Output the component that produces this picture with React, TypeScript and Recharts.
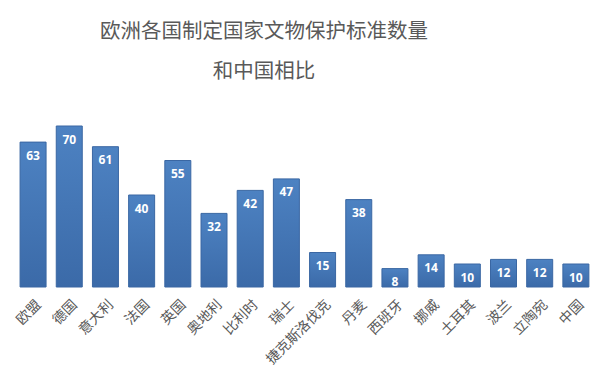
import React from 'react';
import { BarChart, Bar, XAxis, YAxis, LabelList } from 'recharts';

const countries = [
  '欧盟', '德国', '意大利', '法国', '英国', '奥地利', '比利时', '瑞士',
  '捷克斯洛伐克', '丹麦', '西班牙', '挪威', '土耳其', '波兰', '立陶宛', '中国',
];
const counts = [63, 70, 61, 40, 55, 32, 42, 47, 15, 38, 8, 14, 10, 12, 12, 10];
const titleLines = ['欧洲各国制定国家文物保护标准数量', '和中国相比'];

const data = countries.map((name, i) => ({ name, value: counts[i] }));

const textColor = '#595959';
const cjkFont = '"Noto Sans CJK SC", "Noto Sans", sans-serif';

const CountryTick = (props: any) => {
  const { x, y, payload } = props;
  return (
    <g transform={`translate(${x + 6},${y + 8})`}>
      <text
        transform="rotate(-45)"
        textAnchor="end"
        dominantBaseline="middle"
        fill={textColor}
        fontSize={14}
        fontFamily={cjkFont}
      >
        {payload.value}
      </text>
    </g>
  );
};

export default function App() {
  const titleStyle: React.CSSProperties = {
    position: 'absolute',
    left: 64,
    width: 400,
    textAlign: 'center',
    whiteSpace: 'nowrap',
    fontFamily: cjkFont,
    fontSize: 20.5,
    color: textColor,
    lineHeight: '24px',
  };

  return (
    <div style={{ position: 'absolute', left: 0, top: 0, width: 600, height: 381, background: '#fff' }}>
      <div style={{ ...titleStyle, top: 17 }}>{titleLines[0]}</div>
      <div style={{ ...titleStyle, top: 57 }}>{titleLines[1]}</div>
      <BarChart
        width={600}
        height={381}
        data={data}
        margin={{ top: 126, right: 6, left: 15, bottom: 0 }}
        barCategoryGap="14%"
      >
        <defs>
          <linearGradient id="barFill" x1="0" y1="0" x2="0" y2="1">
            <stop offset="0%" stopColor="#4d82c2" />
            <stop offset="100%" stopColor="#3b6aa8" />
          </linearGradient>
        </defs>
        <XAxis
          dataKey="name"
          interval={0}
          height={94}
          axisLine={false}
          tickLine={false}
          tick={<CountryTick />}
        />
        <YAxis hide domain={[0, 70]} />
        <Bar
          dataKey="value"
          fill="url(#barFill)"
          stroke="#3a67a3"
          strokeWidth={1}
          isAnimationActive={false}
        >
          <LabelList
            dataKey="value"
            position="insideTop"
            offset={9}
            style={{
              fill: '#ffffff',
              fontSize: 12,
              fontWeight: 'bold',
              fontFamily: '"Open Sans", "DejaVu Sans", sans-serif',
            }}
          />
        </Bar>
      </BarChart>
    </div>
  );
}
